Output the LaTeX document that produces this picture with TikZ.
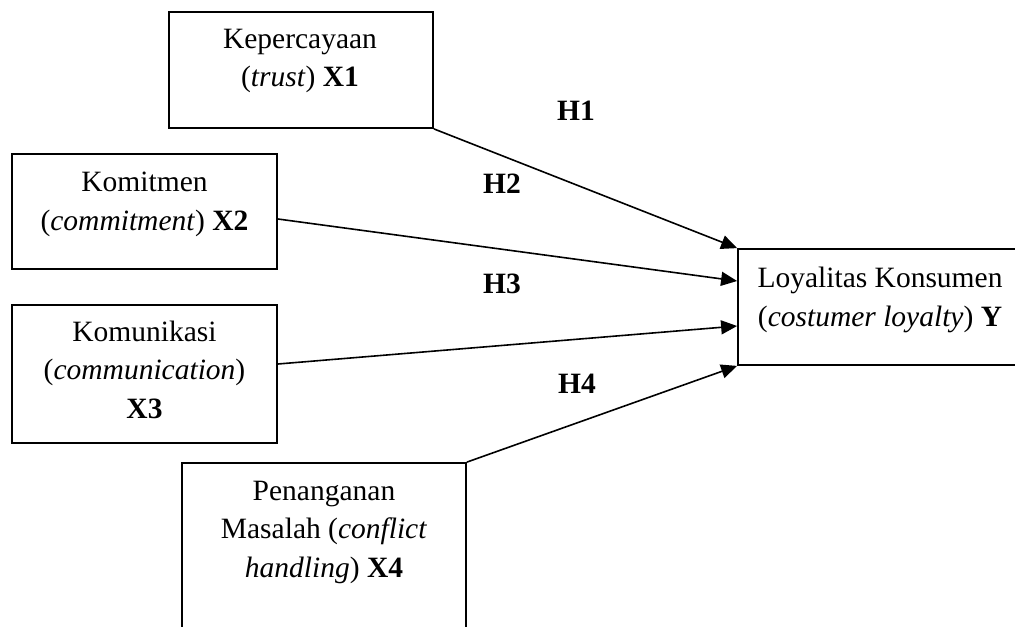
\documentclass[tikz,border=0pt]{standalone}
\usepackage{fontspec}
\setmainfont{Liberation Serif}
\usetikzlibrary{arrows.meta,calc}
\begin{document}
\begin{tikzpicture}[x=0.5pt,y=-0.5pt,
  box/.style={draw, line width=0.9pt, inner sep=0pt},
  txt/.style={align=center, inner sep=0pt, anchor=base, font=\fontsize{14.75pt}{19.25pt}\selectfont},
  hlab/.style={inner sep=0pt, font=\fontsize{14.75pt}{19.25pt}\selectfont\bfseries},
  link/.style={line width=0.8pt, -{Triangle[length=8pt,width=7pt]}}]
\useasboundingbox (0,0) rectangle (1015,626);
\clip (0,0) rectangle (1015,626);
% boxes
\node[box, minimum width=132.15pt, minimum height=58pt] (x1) at (300.85,70) {};
\node[box, minimum width=132.5pt, minimum height=57.5pt] (x2) at (144.5,211.5) {};
\node[box, minimum width=132.5pt, minimum height=69pt] (x3) at (144.5,374) {};
\node[box, minimum width=142pt, minimum height=93.5pt] (x4) at (324,556.5) {};
\node[box, minimum width=142pt, minimum height=58pt] (y) at (880,307) {};
% texts (anchored at the baseline of the last line)
\node[txt] (t1) at (300,87) {Kepercayaan\\(\textit{trust}) \textbf{X1}};
\node[txt] (t2) at (144.5,230) {Komitmen\\(\textit{commitment}) \textbf{X2}};
\node[txt] (t3) at (144.5,418) {Komunikasi\\(\textit{communication})\\\textbf{X3}};
\node[txt] (t4) at (324,577) {Penanganan\\Masalah (\textit{conflict}\\\textit{handling}) \textbf{X4}};
\node[txt] (ty) at (880,326) {Loyalitas Konsumen\\(\textit{costumer loyalty}) \textbf{Y}};
% hypotheses
\node[hlab] (h1) at (576,111) {H1};
\node[hlab] (h2) at (502,184) {H2};
\node[hlab] (h3) at (502,284) {H3};
\node[hlab] (h4) at (577,384) {H4};
% connectors
\draw[link] (x1.south east) -- (y.north west);
\draw[link] ($(x2.east)+(0,7.5)$) -- ($(y.west)+(0,-26)$);
\draw[link] ($(x3.east)+(0,-10)$) -- ($(y.west)+(0,19)$);
\draw[link] (x4.north east) -- (y.south west);
\end{tikzpicture}
\end{document}
